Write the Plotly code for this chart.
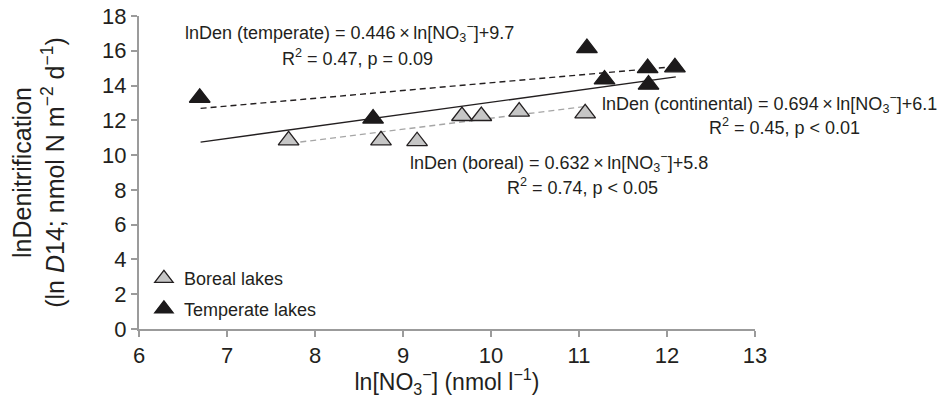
import plotly.graph_objects as go

# ---- data ----
boreal_x = [7.70, 8.75, 9.16, 9.67, 9.89, 10.32, 11.07]
boreal_y = [10.85, 10.85, 10.80, 12.25, 12.25, 12.50, 12.40]
temperate_x = [6.69, 8.66, 11.09, 11.29, 11.78, 11.79, 12.09]
temperate_y = [13.30, 12.10, 16.15, 14.35, 15.00, 14.05, 15.05]

# regression fits printed on the chart: slope, intercept, x-range of the line
fit_temperate = dict(slope=0.446, intercept=9.7, x=[6.70, 12.10])
fit_continental = dict(slope=0.694, intercept=6.1, x=[6.70, 12.10])
fit_boreal = dict(slope=0.632, intercept=5.8, x=[7.72, 11.08])

x_ticks = [6, 7, 8, 9, 10, 11, 12, 13]
y_ticks = [0, 2, 4, 6, 8, 10, 12, 14, 16, 18]

FONT = "Liberation Sans, Arial, Helvetica, sans-serif"
TXT = "#231f20"
AXC = "#9b9b9b"


def fit_line(f):
    xs = f["x"]
    return xs, [f["slope"] * v + f["intercept"] for v in xs]


fig = go.Figure()

lx, ly = fit_line(fit_temperate)
fig.add_trace(go.Scatter(x=lx, y=ly, mode="lines", showlegend=False,
                         line=dict(color="#231f20", width=1.4, dash="6px,4px"),
                         hoverinfo="skip"))
lx, ly = fit_line(fit_continental)
fig.add_trace(go.Scatter(x=lx, y=ly, mode="lines", showlegend=False,
                         line=dict(color="#231f20", width=1.4),
                         hoverinfo="skip"))
lx, ly = fit_line(fit_boreal)
fig.add_trace(go.Scatter(x=lx, y=ly, mode="lines", showlegend=False,
                         line=dict(color="#a6a6a6", width=1.4, dash="6px,4px"),
                         hoverinfo="skip"))

fig.add_trace(go.Scatter(
    x=boreal_x, y=boreal_y, mode="markers", name="Boreal lakes",
    legendgroup="b",
    marker=dict(symbol="triangle-up", size=18, color="#c6c6c6",
                line=dict(color="#231f20", width=1.3))))
fig.add_trace(go.Scatter(
    x=temperate_x, y=temperate_y, mode="markers", name="Temperate lakes",
    legendgroup="t",
    marker=dict(symbol="triangle-up", size=18, color="#1c1a1b",
                line=dict(color="#1c1a1b", width=1.3))))

NO3 = "ln[NO<sub>3</sub><sup>−</sup>]"
ann = [
    (f"lnDen (temperate) = 0.446\u2009×\u2009{NO3}+9.7", 6.497, 17.08),
    ("R<sup>2</sup> = 0.47, p = 0.09", 7.60, 15.64),
    (f"lnDen (continental) = 0.694\u2009×\u2009{NO3}+6.1", 11.235, 12.95),
    ("R<sup>2</sup> = 0.45, p < 0.01", 12.46, 11.62),
    (f"lnDen (boreal) = 0.632\u2009×\u2009{NO3}+5.8", 9.053, 9.55),
    ("R<sup>2</sup> = 0.74, p < 0.05", 10.155, 8.22),
]
annotations = [dict(text=t, x=x, y=y, xref="x", yref="y", xanchor="left",
                    yanchor="middle", showarrow=False,
                    font=dict(family=FONT, size=18, color=TXT))
               for t, x, y in ann]

# the page body adds an 8px offset, so the figure is 8px smaller than the window
fig.update_layout(
    width=937, height=390,
    margin=dict(l=131, r=190, t=8, b=69),
    plot_bgcolor="white", paper_bgcolor="white",
    font=dict(family=FONT, color=TXT),
    annotations=annotations,
    legend=dict(x=0.008, y=0.22, xanchor="left", yanchor="top",
                font=dict(family=FONT, size=18, color=TXT),
                bgcolor="rgba(0,0,0,0)", tracegroupgap=4),
    xaxis=dict(range=[6, 13], tickvals=x_ticks, showgrid=False, zeroline=False,
               showline=True, linecolor=AXC, linewidth=2, automargin=False,
               ticks="outside", tickcolor=AXC, ticklen=6, tickwidth=1.5,
               ticklabeloverflow="allow",
               tickfont=dict(family=FONT, size=22, color=TXT),
               title=dict(text="ln[NO<sub>3</sub><sup>−</sup>] (nmol l<sup>−1</sup>)",
                          font=dict(family=FONT, size=23, color=TXT),
                          standoff=3)),
    yaxis=dict(range=[0, 18], tickvals=y_ticks, showgrid=False, zeroline=False,
               showline=True, linecolor=AXC, linewidth=2, automargin=False,
               ticks="outside", tickcolor=AXC, ticklen=6, tickwidth=1.5,
               ticklabeloverflow="allow",
               tickfont=dict(family=FONT, size=22, color=TXT),
               title=dict(text="lnDenitrification<br>(ln <i>D</i>14; nmol N m<sup>−2</sup> d<sup>−1</sup>)",
                          font=dict(family=FONT, size=25, color=TXT),
                          standoff=33)),
)

fig.write_html("out.html")
